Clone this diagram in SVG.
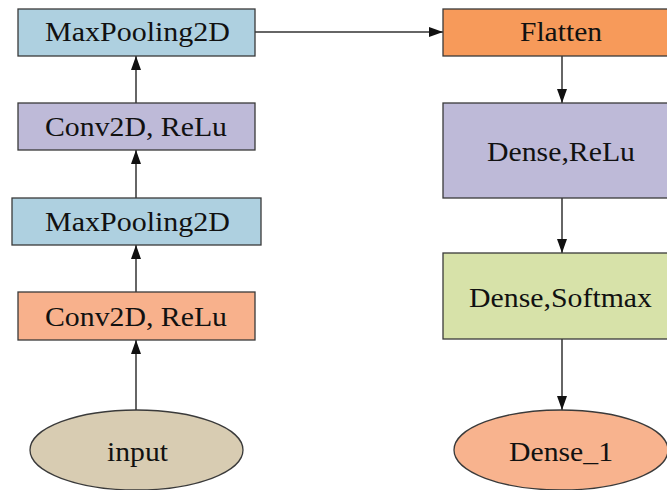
<svg xmlns="http://www.w3.org/2000/svg" width="667" height="490" viewBox="0 0 667 490">
<style>
.b{stroke:#3a3a3a;stroke-width:1.3}
.t{font-family:"Liberation Serif","Times New Roman",Times,serif;font-size:28px;fill:#111;text-anchor:middle}
.c{stroke:#333;stroke-width:1.5;fill:none}
</style>
<defs>
<marker id="ah" viewBox="0 0 14 10" refX="14" refY="5" markerWidth="14" markerHeight="10" markerUnits="userSpaceOnUse" orient="auto">
<path d="M0,0 L14,5 L0,10 z" fill="#111"/>
</marker>
</defs>
<rect width="667" height="490" fill="#fff"/>
<g id="connectors">
<line class="c" x1="136" y1="103" x2="136" y2="56" marker-end="url(#ah)"/>
<line class="c" x1="136" y1="198" x2="136" y2="150" marker-end="url(#ah)"/>
<line class="c" x1="136" y1="292" x2="136" y2="245" marker-end="url(#ah)"/>
<line class="c" x1="136" y1="410" x2="136" y2="340" marker-end="url(#ah)"/>
<line class="c" x1="255" y1="32" x2="443" y2="32" marker-end="url(#ah)"/>
<line class="c" x1="562" y1="56" x2="562" y2="103" marker-end="url(#ah)"/>
<line class="c" x1="562" y1="198" x2="562" y2="253" marker-end="url(#ah)"/>
<line class="c" x1="562" y1="339" x2="562" y2="410" marker-end="url(#ah)"/>
</g>
<g id="maxpool1">
<rect class="b" x="18" y="9" width="237" height="47" fill="#aed0e0"/>
<text class="t" x="137.5" y="41" textLength="185" lengthAdjust="spacingAndGlyphs">MaxPooling2D</text>
</g>
<g id="conv2">
<rect class="b" x="18" y="103" width="237" height="47" fill="#bebad8"/>
<text class="t" x="136" y="136" textLength="182" lengthAdjust="spacingAndGlyphs">Conv2D, ReLu</text>
</g>
<g id="maxpool0">
<rect class="b" x="12" y="198" width="249" height="47" fill="#aed0e0"/>
<text class="t" x="137.5" y="231" textLength="185" lengthAdjust="spacingAndGlyphs">MaxPooling2D</text>
</g>
<g id="conv1">
<rect class="b" x="18" y="292" width="237" height="48" fill="#f8b18c"/>
<text class="t" x="136" y="326" textLength="182" lengthAdjust="spacingAndGlyphs">Conv2D, ReLu</text>
</g>
<g id="input">
<ellipse class="b" cx="136.5" cy="450" rx="106.5" ry="40" fill="#d8ccb2"/>
<text class="t" x="137.5" y="461" textLength="61" lengthAdjust="spacingAndGlyphs">input</text>
</g>
<g id="flatten">
<rect class="b" x="443" y="9" width="240" height="47" fill="#f79a5a"/>
<text class="t" x="561" y="41" textLength="82" lengthAdjust="spacingAndGlyphs">Flatten</text>
</g>
<g id="dense_relu">
<rect class="b" x="443" y="103" width="240" height="95" fill="#bebad8"/>
<text class="t" x="561" y="161" textLength="148" lengthAdjust="spacingAndGlyphs">Dense,ReLu</text>
</g>
<g id="dense_softmax">
<rect class="b" x="443" y="253" width="240" height="86" fill="#d7e2a9"/>
<text class="t" x="560.5" y="307" textLength="183" lengthAdjust="spacingAndGlyphs">Dense,Softmax</text>
</g>
<g id="dense_1">
<ellipse class="b" cx="561" cy="450" rx="107" ry="40" fill="#f8b38e"/>
<text class="t" x="561" y="461" textLength="104" lengthAdjust="spacingAndGlyphs">Dense_1</text>
</g>
</svg>
